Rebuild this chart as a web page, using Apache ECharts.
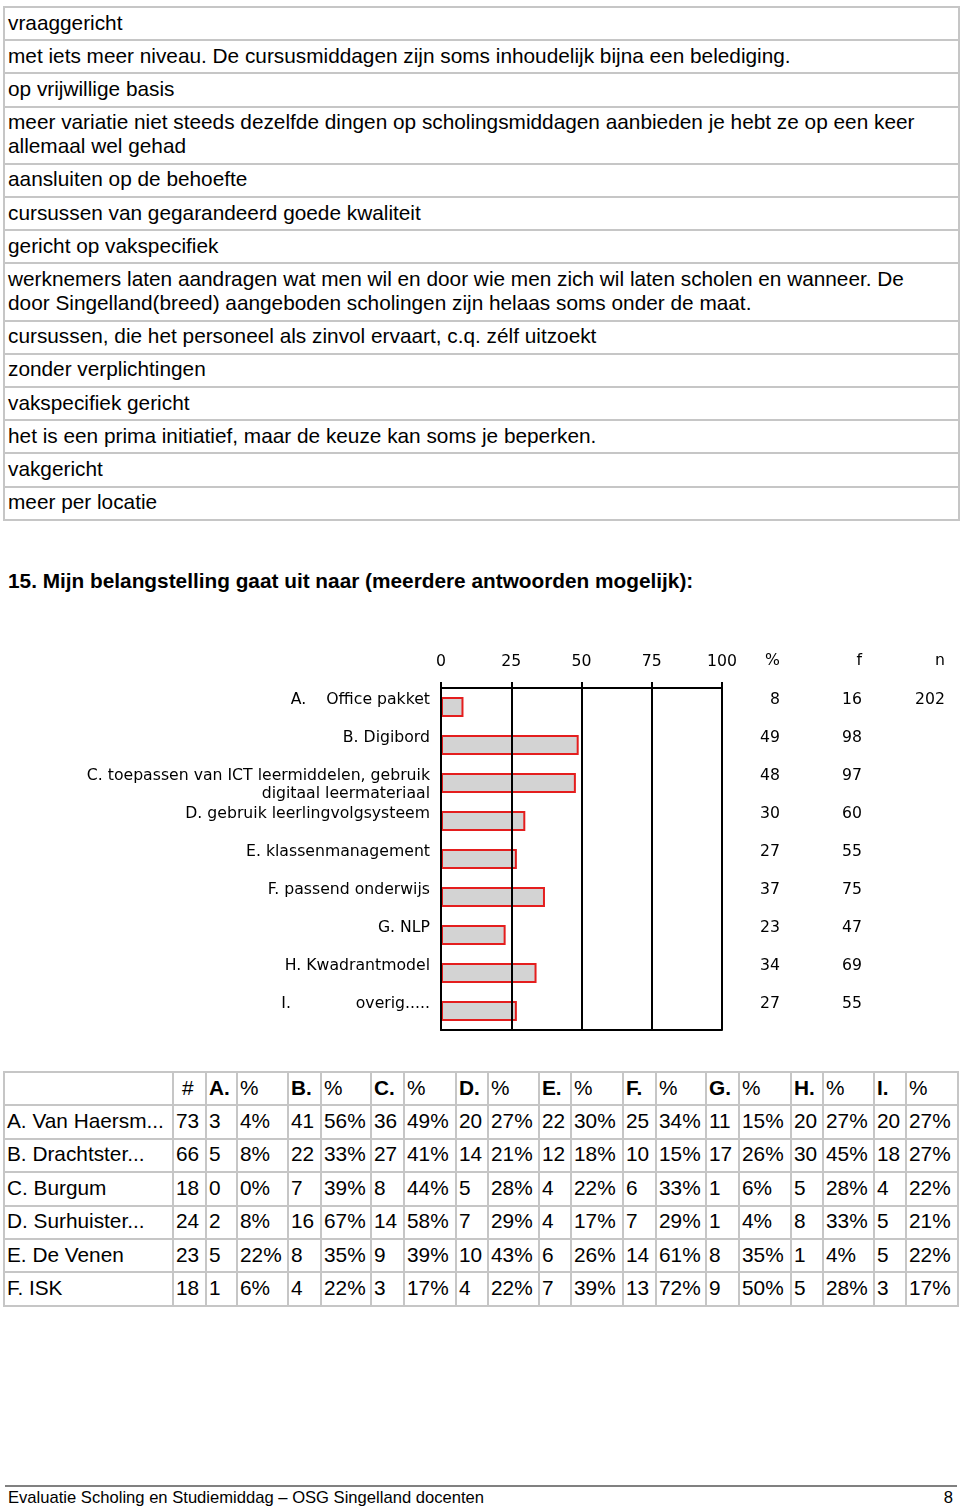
<!DOCTYPE html>
<html>
<head>
<meta charset="utf-8">
<script src="https://cdn.jsdelivr.net/npm/echarts@6/dist/echarts.min.js"></script>
<style>
  html, body { margin: 0; padding: 0; background: #fff; }
  body { width: 960px; height: 1508px; position: relative; overflow: hidden;
         font-family: "Liberation Sans", Arial, sans-serif; color: #000; }
  .cell { position: absolute; box-sizing: border-box; border-left: 2px solid #c6c6c6; border-top: 2px solid #c6c6c6;
          display: flex; align-items: center; white-space: pre-line; overflow: hidden; padding-bottom: 2px; }
  .tt { font-size: 20.8px; line-height: 24px; padding-left: 3px; }
  .bt { font-size: 20.8px; line-height: 24px; padding-left: 2px; white-space: nowrap; }
  .frame { position: absolute; box-sizing: border-box; border-right: 2px solid #c6c6c6; border-bottom: 2px solid #c6c6c6; }
  #title { position: absolute; left: 8px; top: 569px; font-size: 20.8px; line-height: 24px; font-weight: bold; white-space: nowrap; }
  #chart { position: absolute; left: 0; top: 620px; width: 960px; height: 430px; }
  #footline { position: absolute; left: 5px; top: 1485px; width: 952px; height: 2px; background: #808080; }
  #foot { position: absolute; left: 8px; top: 1488px; font-size: 16.6px; line-height: 20px; white-space: nowrap; }
  #page { position: absolute; right: 7px; top: 1488px; font-size: 16.6px; line-height: 20px; }
</style>
</head>
<body>
<div id="top"></div>
<div id="title">15. Mijn belangstelling gaat uit naar (meerdere antwoorden mogelijk):</div>
<div id="chart"></div>
<div id="bottom"></div>
<div id="footline"></div>
<div id="foot">Evaluatie Scholing en Studiemiddag – OSG Singelland docenten</div>
<div id="page">8</div>
<script>
// ---- open answers (top list) ----
var openAnswers = [
  "vraaggericht",
  "met iets meer niveau. De cursusmiddagen zijn soms inhoudelijk bijna een belediging.",
  "op vrijwillige basis",
  "meer variatie niet steeds dezelfde dingen op scholingsmiddagen aanbieden je hebt ze op een keer\nallemaal wel gehad",
  "aansluiten op de behoefte",
  "cursussen van gegarandeerd goede kwaliteit",
  "gericht op vakspecifiek",
  "werknemers laten aandragen wat men wil en door wie men zich wil laten scholen en wanneer. De\ndoor Singelland(breed) aangeboden scholingen zijn helaas soms onder de maat.",
  "cursussen, die het personeel als zinvol ervaart, c.q. zélf uitzoekt",
  "zonder verplichtingen",
  "vakspecifiek gericht",
  "het is een prima initiatief, maar de keuze kan soms je beperken.",
  "vakgericht",
  "meer per locatie"
];

// ---- chart data ----
var categories = [
  "A.    Office pakket",
  "B. Digibord",
  "C. toepassen van ICT leermiddelen, gebruik\ndigitaal leermateriaal",
  "D. gebruik leerlingvolgsysteem",
  "E. klassenmanagement",
  "F. passend onderwijs",
  "G. NLP",
  "H. Kwadrantmodel",
  "I.             overig....."
];
var percentages = [8, 49, 48, 30, 27, 37, 23, 34, 27];
var frequencies = [16, 98, 97, 60, 55, 75, 47, 69, 55];
var nTotal = ["202", "", "", "", "", "", "", "", ""];
var axisTicks = [0, 25, 50, 75, 100];

// ---- cross table ----
var tableHeader = ["", "#", "A.", "%", "B.", "%", "C.", "%", "D.", "%", "E.", "%", "F.", "%", "G.", "%", "H.", "%", "I.", "%"];
var tableRows = [
  ["A. Van Haersm...", "73", "3", "4%", "41", "56%", "36", "49%", "20", "27%", "22", "30%", "25", "34%", "11", "15%", "20", "27%", "20", "27%"],
  ["B. Drachtster...", "66", "5", "8%", "22", "33%", "27", "41%", "14", "21%", "12", "18%", "10", "15%", "17", "26%", "30", "45%", "18", "27%"],
  ["C. Burgum", "18", "0", "0%", "7", "39%", "8", "44%", "5", "28%", "4", "22%", "6", "33%", "1", "6%", "5", "28%", "4", "22%"],
  ["D. Surhuister...", "24", "2", "8%", "16", "67%", "14", "58%", "7", "29%", "4", "17%", "7", "29%", "1", "4%", "8", "33%", "5", "21%"],
  ["E. De Venen", "23", "5", "22%", "8", "35%", "9", "39%", "10", "43%", "6", "26%", "14", "61%", "8", "35%", "1", "4%", "5", "22%"],
  ["F. ISK", "18", "1", "6%", "4", "22%", "3", "17%", "4", "22%", "7", "39%", "13", "72%", "9", "50%", "5", "28%", "3", "17%"]
];

// ---- build top list ----
(function () {
  var host = document.getElementById('top');
  var y = 6, left = 3, right = 958;
  openAnswers.forEach(function (t) {
    var lines = t.split('\n').length;
    var h = 9.2 + 24 * lines;
    var d = document.createElement('div');
    d.className = 'cell tt';
    d.style.left = left + 'px'; d.style.top = y + 'px';
    d.style.width = (right - left) + 'px'; d.style.height = h + 'px';
    d.textContent = t;
    host.appendChild(d);
    y += h;
  });
  var f = document.createElement('div');
  f.className = 'frame';
  f.style.left = left + 'px'; f.style.top = '6px';
  f.style.width = (right - left + 2) + 'px'; f.style.height = (y - 6 + 2) + 'px';
  host.appendChild(f);
})();

// ---- build bottom table ----
(function () {
  var host = document.getElementById('bottom');
  var colX = [3, 172, 205, 236, 287, 320, 370, 403, 455, 487, 538, 570, 622, 655, 705, 738, 790, 822, 873, 905, 957];
  var rowH = 33.4, y0 = 1071;
  var all = [tableHeader].concat(tableRows);
  all.forEach(function (row, r) {
    row.forEach(function (txt, c) {
      var d = document.createElement('div');
      d.className = 'cell bt';
      d.style.left = colX[c] + 'px';
      d.style.top = (y0 + r * rowH) + 'px';
      d.style.width = (colX[c + 1] - colX[c]) + 'px';
      d.style.height = rowH + 'px';
      if (r === 0) {
        if (txt !== '%' && txt !== '#') d.style.fontWeight = 'bold';
        if (txt === '#') { d.style.paddingLeft = '8px'; }
      }
      d.textContent = txt;
      host.appendChild(d);
    });
  });
  var f = document.createElement('div');
  f.className = 'frame';
  f.style.left = colX[0] + 'px'; f.style.top = y0 + 'px';
  f.style.width = (colX[colX.length - 1] - colX[0] + 2) + 'px';
  f.style.height = (all.length * rowH + 2) + 'px';
  host.appendChild(f);
})();

// ---- chart ----
var chart = echarts.init(document.getElementById('chart'), null, { renderer: 'canvas' });
var labelFont = { fontFamily: 'DejaVu Sans', fontSize: 15.7, color: '#000' };
var richStyle = {
  s: { fontSize: 2, lineHeight: 4, fontFamily: 'DejaVu Sans' },
  a: { fontSize: 15.7, lineHeight: 18, fontFamily: 'DejaVu Sans', color: '#000' }
};
// label block: small top spacer, text lines, blank line for single-line labels
function topAligned(v) {
  var lines = String(v).split('\n');
  var out = '{s| }\n' + lines.map(function (l) { return '{a|' + (l === '' ? ' ' : l) + '}'; }).join('\n');
  if (lines.length === 1) out += '\n{a| }';
  return out;
}
function rightCol(values, margin) {
  return {
    type: 'category', inverse: true, position: 'right', data: values,
    axisLine: { show: false }, axisTick: { show: false }, splitLine: { show: false },
    axisLabel: Object.assign({ margin: margin, align: 'right', interval: 0, formatter: topAligned, rich: richStyle }, labelFont)
  };
}
var headFont = '15.7px "DejaVu Sans"';
chart.setOption({
  animation: false,
  grid: { left: 441, right: 238, top: 68, bottom: 20 },
  xAxis: [
    {
      type: 'value', position: 'top', min: axisTicks[0], max: axisTicks[axisTicks.length - 1], interval: 25, z: 10,
      axisLine: { show: true, lineStyle: { color: '#000', width: 2 } },
      axisTick: { show: true, length: 6, lineStyle: { color: '#000', width: 2 } },
      splitLine: { show: true, lineStyle: { color: '#000', width: 2 } },
      axisLabel: Object.assign({ margin: 18 }, labelFont)
    },
    {
      type: 'value', position: 'bottom', min: 0, max: 100, z: 10,
      axisLine: { show: true, lineStyle: { color: '#000', width: 2 } },
      axisTick: { show: false }, axisLabel: { show: false }, splitLine: { show: false }
    }
  ],
  yAxis: [
    {
      type: 'category', inverse: true, data: categories, z: 10,
      axisLine: { show: true, lineStyle: { color: '#000', width: 2 } },
      axisTick: { show: false }, splitLine: { show: false },
      axisLabel: Object.assign({ margin: 11, interval: 0, formatter: topAligned, rich: richStyle }, labelFont)
    },
    rightCol(percentages.map(String), 58),
    rightCol(frequencies.map(String), 140),
    rightCol(nTotal, 223)
  ],
  graphic: [
    { type: 'text', right: 960 - 780, top: 33, style: { text: '%', font: headFont, fill: '#000' } },
    { type: 'text', right: 960 - 862, top: 33, style: { text: 'f', font: headFont, fill: '#000' } },
    { type: 'text', right: 960 - 945, top: 33, style: { text: 'n', font: headFont, fill: '#000' } }
  ],
  series: [{
    type: 'bar', xAxisIndex: 0, yAxisIndex: 0, data: percentages, barWidth: 20,
    itemStyle: { color: '#d3d3d3', borderColor: '#e41e1e', borderWidth: 2 }
  }]
});
</script>
</body>
</html>
